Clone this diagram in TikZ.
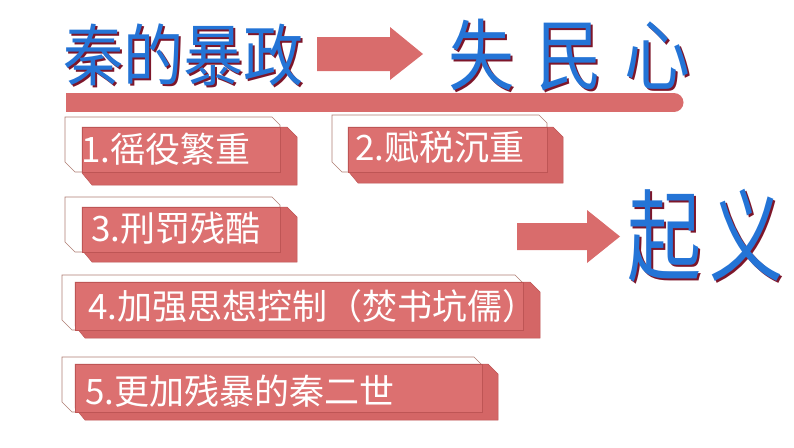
\documentclass[tikz,border=0pt]{standalone}
\usepackage{fontspec}
\newfontfamily\cjk{Noto Sans CJK SC}
\usetikzlibrary{shadows}
\definecolor{barred}{RGB}{217,108,108}
\definecolor{frontred}{RGB}{220,112,112}
\definecolor{backred}{RGB}{212,102,102}
\definecolor{edgered}{RGB}{190,85,85}
\definecolor{wline}{RGB}{175,125,115}
\definecolor{tblue}{RGB}{36,116,214}
\definecolor{tshadow}{RGB}{125,22,42}
\tikzset{
  whitebox/.style={fill=white, draw=wline, line width=0.6pt, line join=miter},
  backbox/.style={fill=backred, draw=edgered, line width=0.5pt},
  frontbox/.style={fill=frontred, draw=edgered, line width=0.4pt, drop shadow={shadow xshift=1pt, shadow yshift=-1.2pt, opacity=0.35}},
  boxtext/.style={anchor=base west, inner sep=0pt, text=white, font=\cjk\fontsize{35}{40}\selectfont},
  titletext/.style={anchor=base west, inner sep=0pt, text=tblue, font=\cjk},
  bigarrow/.style={fill=barred}
}
\newcommand\chbox[8]{%
  \filldraw[whitebox] (#1,#2) -- ({#3-8},#2) -- (#3,{#2+8}) -- (#3,#4) -- ({#1+10},#4) -- (#1,{#4-10}) -- cycle;
  \filldraw[backbox] ({#1+#5},{#2+#6}) -- ({#3+#7-10},{#2+#6}) -- ({#3+#7},{#2+#6+10}) -- ({#3+#7},{#4+#8}) -- ({#1+#5+10},{#4+#8}) -- ({#1+#5},{#4+#8-12}) -- cycle;
  \filldraw[frontbox] ({#1+#5},{#2+#6}) rectangle (#3,#4);
}
\newcommand\titleword[4]{% name, x, baseline, content
  \node[titletext] (#1) at (#2,#3) {\rlap{\kern2.5pt\raisebox{-2.5pt}{\color{tshadow}#4}}#4};
}
\begin{document}
\begin{tikzpicture}[x=1pt,y=-1pt]
\useasboundingbox (0,0) rectangle (794,447);
% title row
\titleword{qin}{63}{80}{\fontsize{60}{60}\selectfont\scalebox{1}[1.12]{秦的暴政}}
\fill[bigarrow] (317,37) -- (390,37) -- (390,27) -- (423,54) -- (390,80) -- (390,71) -- (317,71) -- cycle;
\titleword{shi}{448}{84}{\fontsize{66}{66}\selectfont\scalebox{1}[1.18]{失\kern22pt 民\kern22pt 心}}
% bar
\fill[barred] (66,93) rectangle (674,112);
\fill[barred] (674,102.5) circle (9.5pt);
% boxes
\chbox{65}{117}{280}{172}{17}{10}{17}{13}
\node[boxtext] (b1) at (81,162.5) {1.徭役繁重};
\chbox{332}{115}{547}{172}{16}{12}{16}{11}
\node[boxtext] (b2) at (355,160) {2.赋税沉重};
\chbox{65}{197}{280}{252}{17}{10}{17}{10}
\node[boxtext] (b3) at (91,241) {3.刑罚残酷};
\chbox{62}{275}{523}{330}{13}{7}{17}{8}
\node[boxtext] (b4) at (88,319.5) {4.加强思想控制（焚书坑儒）};
\chbox{62}{357}{482}{412}{13}{7}{16}{8}
\node[boxtext] (b5) at (85,404.5) {5.更加残暴的秦二世};
% second arrow
\fill[bigarrow] (517,223) -- (587,223) -- (587,210) -- (620,236.5) -- (587,263) -- (587,250) -- (517,250) -- cycle;
\titleword{qiyi}{627}{273}{\fontsize{74}{74}\selectfont\scalebox{1}[1.35]{起\kern8pt 义}}
\end{tikzpicture}
\end{document}
